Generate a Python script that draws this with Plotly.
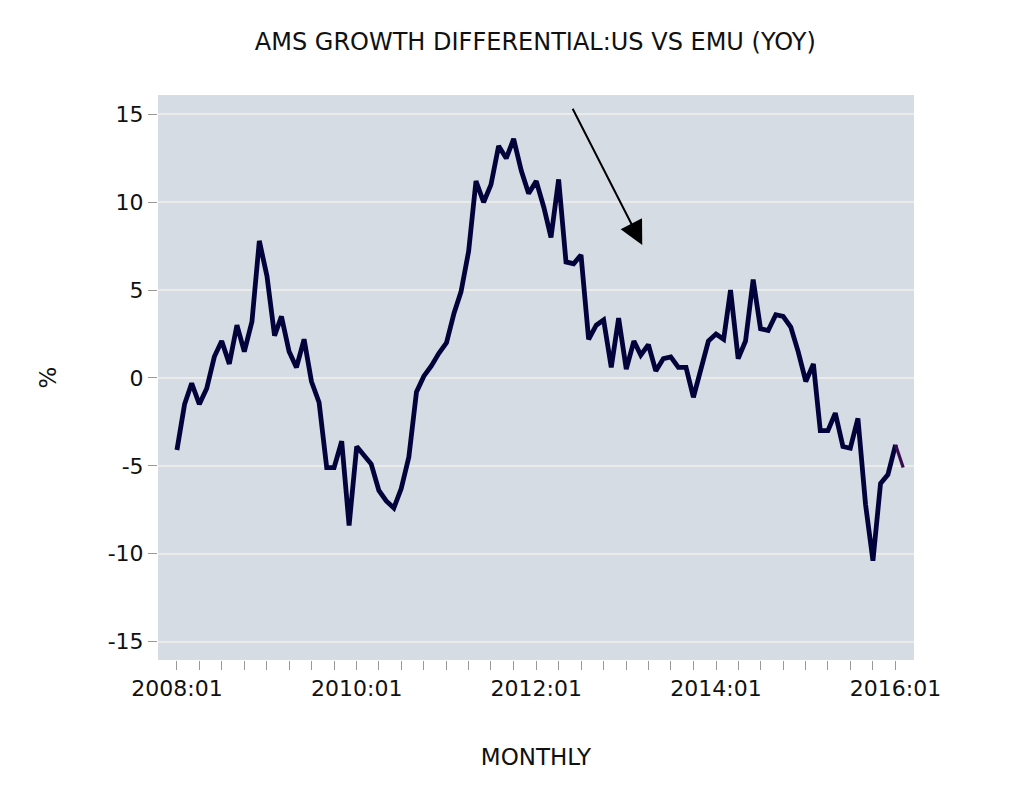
import pandas as pd
import plotly.graph_objects as go

# Monthly AMS growth differential US vs EMU (YoY, %), 2008:01 .. 2016:01
start_month = "2008-01-01"
values = [
    -4.1, -1.5, -0.3, -1.5, -0.6, 1.2, 2.1, 0.8, 3.0, 1.5, 3.2, 7.8,
    5.8, 2.4, 3.5, 1.5, 0.6, 2.2, -0.2, -1.4, -5.1, -5.1, -3.6, -8.4,
    -3.9, -4.4, -4.9, -6.4, -7.0, -7.4, -6.3, -4.5, -0.8, 0.1, 0.7, 1.4,
    2.0, 3.7, 4.9, 7.2, 11.2, 10.0, 11.0, 13.2, 12.5, 13.6, 11.8, 10.5,
    11.2, 9.7, 8.0, 11.3, 6.6, 6.5, 7.0, 2.2, 3.0, 3.3, 0.6, 3.4,
    0.5, 2.1, 1.3, 1.9, 0.4, 1.1, 1.2, 0.6, 0.6, -1.1, 0.5, 2.1,
    2.5, 2.2, 5.0, 1.1, 2.1, 5.6, 2.8, 2.7, 3.6, 3.5, 2.9, 1.5,
    -0.2, 0.8, -3.0, -3.0, -2.0, -3.9, -4.0, -2.3, -7.2, -10.4, -6.0, -5.5,
    -3.8,
]
# latest segment (drawn in a different colour)
latest_dates = ["2016-01-01", "2016-02-01"]
latest_values = [-3.8, -5.1]

tick_dates = [
    "2008-01-01", "2008-04-01", "2008-07-01", "2008-10-01",
    "2009-01-01", "2009-04-01", "2009-07-01", "2009-10-01",
    "2010-01-01", "2010-04-01", "2010-07-01", "2010-10-01",
    "2011-01-01", "2011-04-01", "2011-07-01", "2011-10-01",
    "2012-01-01", "2012-04-01", "2012-07-01", "2012-10-01",
    "2013-01-01", "2013-04-01", "2013-07-01", "2013-10-01",
    "2014-01-01", "2014-04-01", "2014-07-01", "2014-10-01",
    "2015-01-01", "2015-04-01", "2015-07-01", "2015-10-01",
    "2016-01-01",
]
tick_labels = [
    "2008:01", "", "", "", "", "", "", "",
    "2010:01", "", "", "", "", "", "", "",
    "2012:01", "", "", "", "", "", "", "",
    "2014:01", "", "", "", "", "", "", "",
    "2016:01",
]
y_ticks = [-15, -10, -5, 0, 5, 10, 15]
y_tick_labels = ["-15", "-10", "-5", "0", "5", "10", "15"]

dates = pd.date_range(start=start_month, periods=len(values), freq="MS")

FONT = "DejaVu Sans, sans-serif"

fig = go.Figure()
fig.add_trace(go.Scatter(
    x=dates, y=values, mode="lines",
    line=dict(color="#03033c", width=4.8),
    showlegend=False, hoverinfo="skip",
))
fig.add_trace(go.Scatter(
    x=latest_dates, y=latest_values, mode="lines",
    line=dict(color="#3a0a4e", width=3.2),
    showlegend=False, hoverinfo="skip",
))

fig.add_annotation(
    x="2013-03-07", y=7.56, ax="2012-05-25", ay=15.4,
    xref="x", yref="y", axref="x", ayref="y",
    showarrow=True, arrowhead=2, arrowsize=2.4, arrowwidth=2,
    arrowcolor="#000000", text="",
)

fig.update_layout(
    width=1024, height=794,
    paper_bgcolor="#ffffff", plot_bgcolor="#d5dce4",
    margin=dict(l=150, r=118, t=87, b=142),
    font=dict(family=FONT, size=22, color="#111111"),
    title=dict(
        text="AMS GROWTH DIFFERENTIAL:US VS EMU (YOY)",
        x=0.515, xanchor="center", y=0.958, yanchor="middle",
        font=dict(family=FONT, size=24, color="#111111"),
    ),
    xaxis=dict(
        type="date",
        range=["2007-10-16", "2016-03-16"],
        tickmode="array", tickvals=tick_dates, ticktext=tick_labels,
        ticks="outside", ticklen=9, tickcolor="#999999", tickwidth=1,
        showgrid=False, zeroline=False, showline=False,
        tickfont=dict(family=FONT, size=22),
        title=dict(text="MONTHLY", font=dict(family=FONT, size=23), standoff=48),
    ),
    yaxis=dict(
        range=[-16.05, 16.1],
        tickmode="array", tickvals=y_ticks, ticktext=y_tick_labels,
        ticks="outside", ticklen=9, tickcolor="#999999", tickwidth=1,
        showgrid=True, gridcolor="#ebebeb", gridwidth=2,
        zeroline=False, showline=False,
        tickfont=dict(family=FONT, size=22),
        title=dict(text="%", font=dict(family=FONT, size=23), standoff=44),
    ),
)

fig.write_html("out.html")
